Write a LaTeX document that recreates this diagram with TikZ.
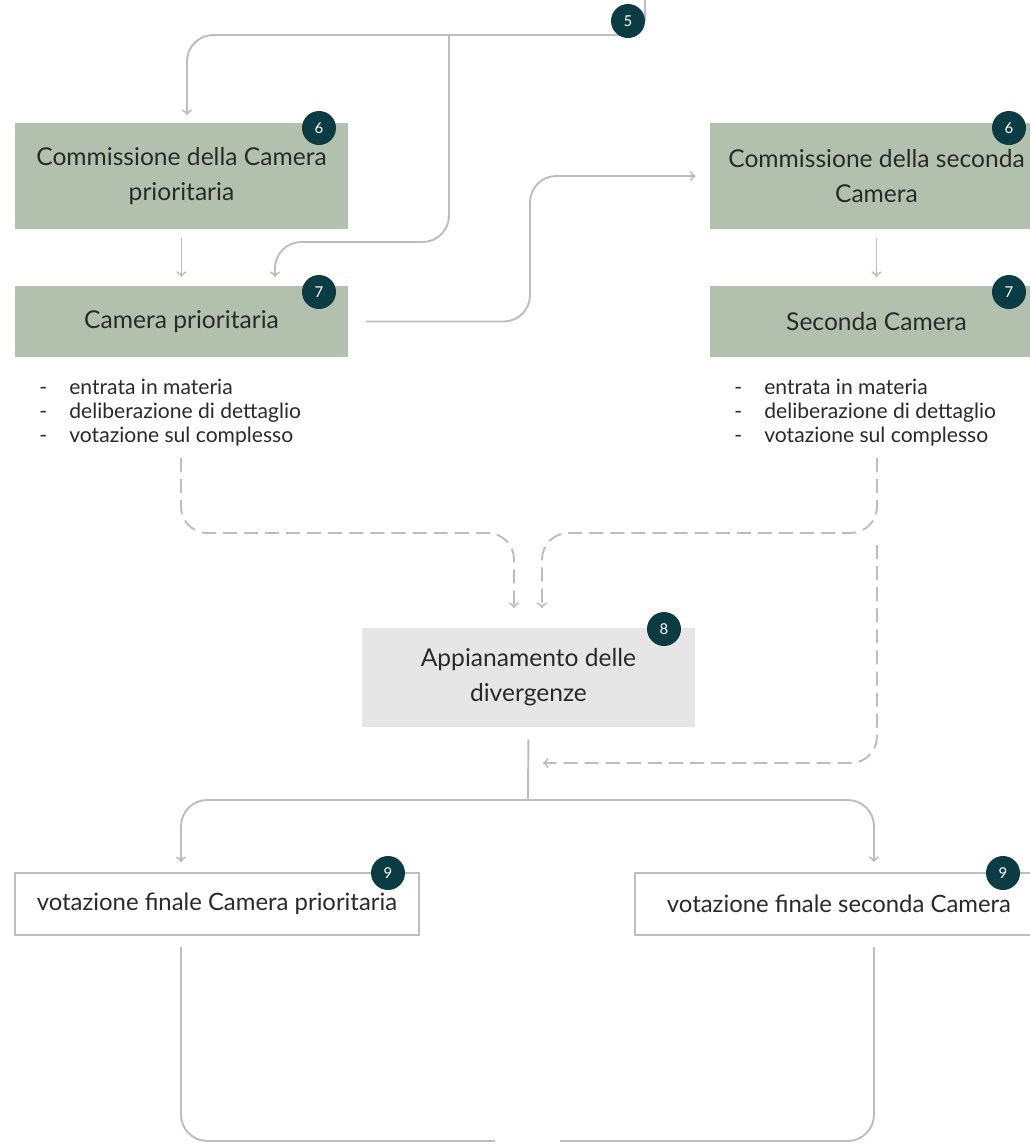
\documentclass[tikz,border=0pt]{standalone}
\usepackage{fontspec}
\setmainfont{Lato}
\usepackage{tikz}
\usetikzlibrary{calc,positioning,arrows}
\definecolor{sage}{HTML}{B2C1AE}
\definecolor{mist}{HTML}{E6E6E6}
\definecolor{petrol}{HTML}{0B3C43}
\definecolor{wire}{HTML}{BDBDBD}
\definecolor{ink}{HTML}{2A2A2A}
\tikzset{
  >=to,
  badge/.style={circle, fill=petrol, text=white, minimum size=0.68cm, inner sep=0pt,
                font=\fontsize{8.5}{8.5}\selectfont},
  gap/.style={shorten <=5pt, shorten >=5pt},
  listing/.style={anchor=north west, align=left, inner sep=0pt, text=ink,
                  font=\fontsize{12}{13.6}\selectfont}
}
\tikzstyle{stage} = [rectangle, fill=sage, align=center, minimum width=6.66cm, inner sep=0pt,
                     text=ink, font=\fontsize{14}{19.8}\selectfont]
\tikzstyle{commission} = [stage, minimum height=2.12cm]
\tikzstyle{chamber} = [stage, minimum height=1.42cm]
\tikzstyle{settle} = [stage, fill=mist, minimum height=1.98cm]
\tikzstyle{vote} = [stage, fill=white, draw=wire, line width=1pt, minimum height=1.24cm,
                    font=\fontsize{13.6}{19.8}\selectfont]
\tikzstyle{line} = [draw, color=wire, line width=1.1pt, rounded corners=15pt, ->]
\tikzstyle{dashline} = [line, dash pattern=on 8pt off 4pt]
\tikzstyle{plain} = [draw, color=wire, line width=1.1pt, rounded corners=15pt]
\newcommand{\badge}[3]{node (#1) [badge] at (#2) {#3}}
\newcommand{\bul}{\makebox[0.6cm][l]{-}}

\begin{document}
\begin{tikzpicture}[x=0.02cm,y=-0.02cm]
  \clip (0,0) rectangle (1030,1144);
  \fill[white] (0,0) rectangle (1030,1144);

  % Draw diagram elements
  \node (p6l) [commission] at (181.5,176) {Commissione della Camera\\prioritaria};
  \node (p7l) [chamber] at (181.5,321.5) {Camera prioritaria};
  \node (p6r) [commission] at (876.5,176) {Commissione della seconda\\Camera};
  \node (p7r) [chamber] at (876.5,321.5) {Seconda Camera};
  \node (p8) [settle] at (528.5,677.5) {Appianamento delle\\divergenze};
  \node (p9l) [vote, minimum width=8.08cm] at (217,904) {votazione finale Camera prioritaria};
  \node (p9r) [vote, minimum width=8.16cm] at (839,904) {votazione finale seconda Camera};

  \node (l7l) [listing] at (39,379) {\bul entrata in materia\\\bul deliberazione di dettaglio\\\bul votazione sul complesso};
  \node (l7r) [listing] at (734,379) {\bul entrata in materia\\\bul deliberazione di dettaglio\\\bul votazione sul complesso};

  % Free ends and bends
  \coordinate (top) at (645,0);
  \coordinate (j0) at (628,35);
  \coordinate (j1) at (449,35);
  \coordinate (k1) at (275,242);
  \coordinate (a6l) at (187,115);
  \coordinate (a7l) at (275,277);
  \coordinate (m1) at (530,250);
  \coordinate (d1) at (181,458);
  \coordinate (h1) at (514,533);
  \coordinate (e1) at (514,608);
  \coordinate (d2) at (877,458);
  \coordinate (h2) at (542,533);
  \coordinate (e2) at (542,608);
  \coordinate (d3) at (877,545);
  \coordinate (e3) at (543,763);
  \coordinate (split) at (528,800);
  \coordinate (a9l) at (181,862);
  \coordinate (a9r) at (874,862);
  \coordinate (v1) at (181,947);
  \coordinate (v2) at (874,947);
  \coordinate (f1) at (495,1141);
  \coordinate (f2) at (560,1141);

  % Draw arrows between elements
  \path [plain] (top) -- (645,21);
  \path [line] (j0) -| (a6l);
  \path [line] (j1) |- (k1) -- (a7l);
  \path [line, gap] (p6l) -- (p7l);
  \path [line, gap] (p6r) -- (p7r);
  \path [line, shorten <=10pt, shorten >=8pt] (p7l.east) -- (p7l.east -| m1) -- (m1 |- p6r.west) -- (p6r.west);
  \path [dashline] (d1) |- (h1) -- (e1);
  \path [dashline] (d2) |- (h2) -- (e2);
  \path [dashline] (d3) |- (e3);
  \path [plain, shorten <=7pt] (p8.south) -- (split);
  \path [line] (split) -| (a9l);
  \path [line] (split) -| (a9r);
  \path [plain] (v1) |- (f1);
  \path [plain] (v2) |- (f2);

  % Step numbers
  \path \badge{b5}{628,21}{5};
  \path \badge{b6l}{319,128}{6};
  \path \badge{b7l}{319,292}{7};
  \path \badge{b6r}{1009,128}{6};
  \path \badge{b7r}{1009,292}{7};
  \path \badge{b8}{664,629}{8};
  \path \badge{b9l}{388,873}{9};
  \path \badge{b9r}{1003,873}{9};
\end{tikzpicture}
\end{document}
